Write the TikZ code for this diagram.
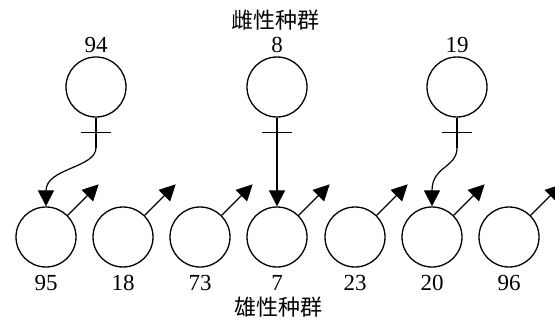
\documentclass[tikz,border=0pt]{standalone}
\usepackage{fontspec}
\setmainfont{Liberation Serif}
\newfontfamily\cjk{Noto Sans CJK SC}
\usetikzlibrary{arrows.meta,calc}
\begin{document}
\begin{tikzpicture}[x=1pt,y=-1pt,
  ring/.style={circle,draw,line width=1.3pt,minimum size=60pt,inner sep=0pt},
  num/.style={font=\fontsize{23}{23}\selectfont,inner sep=0pt},
  ttl/.style={font=\cjk\fontsize{22}{22}\selectfont,inner sep=0pt},
  ln/.style={line width=1.2pt},
  arr/.style={line width=1.2pt,-{Triangle[length=16pt,width=16pt]}}]
\useasboundingbox (0,0) rectangle (555,324);
\node[ttl] (tf) at (275,20) {雌性种群};
\node[ttl] (tm) at (278,307) {雄性种群};
% females
\foreach \n/\x in {94/96,8/277,19/457}{
  \node[ring] (f\n) at (\x,87) {};
  \node[num] (lf\n) at (\x,45) {\n};
  \draw[ln] (f\n.south) -- ++(0,30) coordinate (fe\n);
  \draw[ln] ($(f\n.south)+(-15,15)$) -- ++(30,0);
}
% males
\foreach \n/\x in {95/46,18/123,73/200,7/277,23/355,20/432,96/509}{
  \node[ring] (m\n) at (\x,237) {};
  \node[num] (lm\n) at (\x,283) {\n};
  \draw[arr] (m\n.45) -- ++(31,-31);
}
\draw[arr] (fe94) .. controls (96,168) and (46,168) .. (m95.north);
\draw[arr] (fe8) -- (m7.north);
\draw[arr] (fe19) .. controls (457,168) and (432,166) .. (m20.north);
\end{tikzpicture}
\end{document}
